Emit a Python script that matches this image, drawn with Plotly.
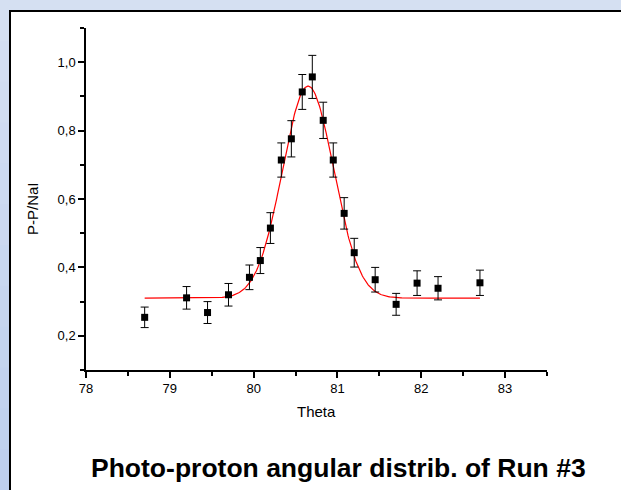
import numpy as np
import plotly.graph_objects as go

# Measured ratio vs. angle
theta = [78.70, 79.20, 79.45, 79.70, 79.95, 80.08, 80.20, 80.33, 80.45, 80.58,
         80.70, 80.83, 80.95, 81.08, 81.20, 81.45, 81.70, 81.95, 82.20, 82.70]
ratio = [0.254, 0.311, 0.268, 0.320, 0.371, 0.420, 0.515, 0.714, 0.776, 0.913,
         0.957, 0.830, 0.714, 0.558, 0.443, 0.364, 0.292, 0.354, 0.339, 0.355]
ratio_err = [0.030, 0.033, 0.032, 0.033, 0.036, 0.038, 0.045, 0.050, 0.053, 0.051,
             0.063, 0.053, 0.050, 0.046, 0.042, 0.036, 0.032, 0.036, 0.034, 0.037]

# Gaussian fit parameters (baseline, amplitude, centre, sigma) and fit range
fit_y0 = 0.31
fit_amp = 0.62
fit_xc = 80.65
fit_sigma = 0.305
fit_range = [78.70, 82.70]

x_ticks = [78, 79, 80, 81, 82, 83]
y_ticks = [0.2, 0.4, 0.6, 0.8, 1.0]

W, H = 621, 490
ML, MR, MT, MB = 86, 74, 28, 120
PW, PH = W - ML - MR, H - MT - MB


def px(xpix):
    return (xpix - ML) / PW


def py(ypix):
    return (H - MB - ypix) / PH


fit_x = np.linspace(fit_range[0], fit_range[1], 400)
fit_y = fit_y0 + fit_amp * np.exp(-((fit_x - fit_xc) ** 2) / (2 * fit_sigma ** 2))

FONT = "Arial, 'Liberation Sans', sans-serif"

fig = go.Figure()
fig.add_trace(go.Scatter(
    x=fit_x, y=fit_y, mode="lines",
    line=dict(color="#FF0000", width=1.2),
    hoverinfo="skip", showlegend=False,
))
fig.add_trace(go.Scatter(
    x=theta, y=ratio, mode="markers",
    marker=dict(symbol="square", size=7, color="black"),
    error_y=dict(type="data", array=ratio_err, visible=True,
                 color="black", thickness=1, width=4),
    showlegend=False,
))

shapes = []
# light blue frame, darker toward the bottom on the left strip
bands = 12
for i in range(bands):
    t = i / (bands - 1)
    r = int(round(0xD5 + (0xBE - 0xD5) * t))
    g = int(round(0xE0 + (0xCF - 0xE0) * t))
    b = int(round(0xF2 + (0xEE - 0xF2) * t))
    y0p = H * i / bands
    y1p = H * (i + 1) / bands
    shapes.append(dict(type="rect", xref="paper", yref="paper", layer="below",
                       x0=px(0), x1=px(10), y0=py(y1p + 1), y1=py(y0p),
                       fillcolor=f"rgb({r},{g},{b})", line=dict(width=0)))
# white panel with black top/left border
shapes.append(dict(type="rect", xref="paper", yref="paper", layer="below",
                   x0=px(10), x1=px(W + 20), y0=py(H + 20), y1=py(11),
                   fillcolor="white", line=dict(color="black", width=2)))

annotations = [
    dict(text="Theta", xref="paper", yref="paper", x=px(316), y=py(411),
         xanchor="center", yanchor="middle", showarrow=False,
         font=dict(family=FONT, size=15, color="black")),
    dict(text="P-P/NaI", xref="paper", yref="paper", x=px(33), y=py(209),
         xanchor="center", yanchor="middle", showarrow=False, textangle=-90,
         font=dict(family=FONT, size=15, color="black")),
    dict(text="<b>Photo-proton angular distrib. of Run #3</b>", xref="paper", yref="paper",
         x=px(338), y=py(468), xanchor="center", yanchor="middle", showarrow=False,
         font=dict(family=FONT, size=26.5, color="black")),
]

axis_common = dict(
    showline=True, linecolor="black", linewidth=1.5,
    ticks="outside", ticklen=6, tickwidth=1.5, tickcolor="black",
    showgrid=False, zeroline=False, mirror=False,
    tickfont=dict(family=FONT, size=13, color="black"),
)

fig.update_layout(
    width=W, height=H,
    margin=dict(l=ML, r=MR, t=MT, b=MB, pad=0),
    paper_bgcolor="rgb(213,224,242)",
    plot_bgcolor="rgba(0,0,0,0)",
    separators=",.",
    shapes=shapes,
    annotations=annotations,
    xaxis=dict(range=[78, 83.5], tickvals=x_ticks, ticktext=[str(v) for v in x_ticks],
               minor=dict(dtick=0.5, tick0=78, ticks="outside", ticklen=4,
                          tickwidth=1.5, tickcolor="black", showgrid=False),
               **axis_common),
    yaxis=dict(range=[0.1, 1.1], tickvals=y_ticks, tickformat=".1f",
               minor=dict(dtick=0.1, tick0=0.1, ticks="outside", ticklen=4,
                          tickwidth=1.5, tickcolor="black", showgrid=False),
               **axis_common),
)

fig.write_html("out.html")
